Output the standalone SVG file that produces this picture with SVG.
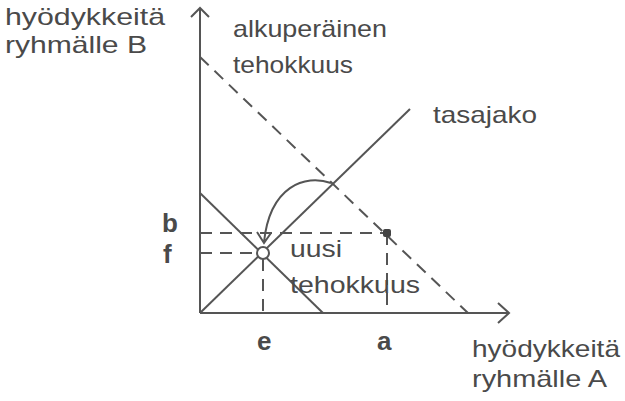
<svg xmlns="http://www.w3.org/2000/svg" width="625" height="401" viewBox="0 0 625 401">
<style>
.t{font-family:"Liberation Sans",Arial,sans-serif;font-size:24px;fill:#4a4a4a}
.b{font-family:"Liberation Sans",Arial,sans-serif;font-size:26px;font-weight:bold;fill:#4a4a4a}
.s{stroke:#555;stroke-width:2;fill:none}
.d{stroke:#555;stroke-width:2;fill:none;stroke-dasharray:12 8}
</style>
<rect width="625" height="401" fill="#fff"/>
<g id="axes">
<path class="s" d="M200,313 V8 M191,17 L200,8 L209,17"/>
<path class="s" d="M200,313 H509 M498,303 L509,313 L498,323"/>
</g>
<g id="connectors">
<path class="d" d="M200,57 L468,313"/>
<path class="s" d="M200,313 L410,109"/>
<path class="s" d="M200,193 L323,313"/>
<path class="d" d="M200,233 H387 M387,233 V313"/>
<path class="d" d="M200,253 H257 M263,259 V313"/>
<path class="s" d="M331,183 C305,174 270,186 264,242 M257,232 L264,243 L271,233"/>
</g>
<g id="point-e">
<circle cx="263" cy="253" r="6" fill="#fff" stroke="#555" stroke-width="2"/>
</g>
<g id="point-a">
<rect x="383" y="229" width="8" height="8" rx="2" fill="#444"/>
</g>
<g id="labels">
<text class="t" x="5" y="25" textLength="160" lengthAdjust="spacingAndGlyphs">hyödykkeitä</text>
<text class="t" x="5" y="53" textLength="142" lengthAdjust="spacingAndGlyphs">ryhmälle B</text>
<text class="t" x="233" y="37" textLength="154" lengthAdjust="spacingAndGlyphs">alkuperäinen</text>
<text class="t" x="233" y="73" textLength="120" lengthAdjust="spacingAndGlyphs">tehokkuus</text>
<text class="t" x="433" y="123" textLength="104" lengthAdjust="spacingAndGlyphs">tasajako</text>
<text class="t" x="290" y="257" textLength="52" lengthAdjust="spacingAndGlyphs">uusi</text>
<text class="t" x="290" y="293" textLength="130" lengthAdjust="spacingAndGlyphs">tehokkuus</text>
<text class="t" x="472" y="357" textLength="148" lengthAdjust="spacingAndGlyphs">hyödykkeitä</text>
<text class="t" x="472" y="387" textLength="135" lengthAdjust="spacingAndGlyphs">ryhmälle A</text>
<text class="b" x="162" y="232">b</text>
<text class="b" x="163" y="263">f</text>
<text class="b" x="257" y="350">e</text>
<text class="b" x="377" y="350">a</text>
</g>
</svg>
